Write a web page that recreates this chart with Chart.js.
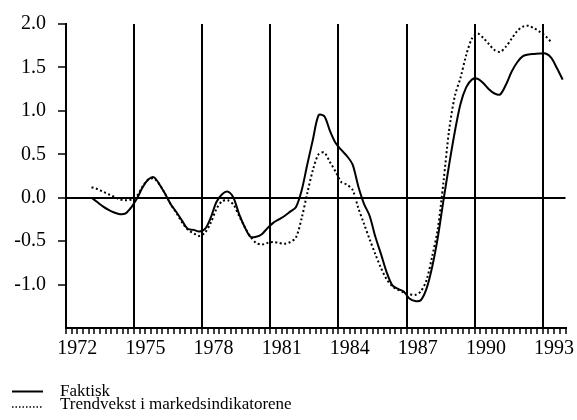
<!DOCTYPE html>
<html>
<head>
<meta charset="utf-8">
<script src="https://cdn.jsdelivr.net/npm/chart.js@4/dist/chart.umd.min.js"></script>
<style>
  html, body { margin: 0; padding: 0; background: #fff; }
  #wrap { position: relative; width: 577px; height: 420px; }
</style>
</head>
<body>
<div id="wrap"><canvas id="chart" width="577" height="420"></canvas></div>
<script>
// Quarterly growth, 1973 Q1 onwards (one value per quarter)
const firstYear = 1973;

const faktisk = [
   0.00, -0.05, -0.10, -0.14,   // 1973
  -0.17, -0.19, -0.18, -0.11,   // 1974
  -0.01,  0.12,  0.21,  0.235,  // 1975
   0.15,  0.04, -0.08, -0.17,   // 1976
  -0.27, -0.36, -0.37, -0.39,   // 1977
  -0.36, -0.23, -0.05,  0.04,   // 1978
   0.07,  0.00, -0.19, -0.34,   // 1979
  -0.45, -0.45, -0.42, -0.35,   // 1980
  -0.29, -0.25, -0.21, -0.16,   // 1981
  -0.11,  0.08,  0.38,  0.67,   // 1982
   0.95,  0.94,  0.77,  0.63,   // 1983
   0.55,  0.48,  0.38,  0.13,   // 1984
  -0.07, -0.21, -0.45, -0.65,   // 1985
  -0.86, -1.01, -1.05, -1.08,   // 1986
  -1.16, -1.19, -1.18, -1.05,   // 1987
  -0.80, -0.46, -0.03,  0.38,   // 1988
   0.76,  1.08,  1.27,  1.36,   // 1989
   1.37,  1.32,  1.25,  1.20,   // 1990
   1.19,  1.30,  1.45,  1.56,   // 1991
   1.63,  1.65,  1.655, 1.66,   // 1992
   1.66,  1.61,  1.49,  1.36    // 1993
];

const trendvekst = [
   0.12,  0.10,  0.07,  0.04,   // 1973
   0.01, -0.02, -0.03, -0.02,   // 1974
   0.02,  0.13,  0.21,  0.22,   // 1975
   0.15,  0.04, -0.08, -0.18,   // 1976
  -0.29, -0.37, -0.41, -0.44,   // 1977
  -0.40, -0.29, -0.13, -0.04,   // 1978
  -0.03, -0.08, -0.21, -0.34,   // 1979
  -0.45, -0.52, -0.54, -0.52,   // 1980
  -0.51, -0.52, -0.53, -0.51,   // 1981
  -0.46, -0.24,  0.05,  0.32,   // 1982
   0.50,  0.52,  0.41,  0.30,   // 1983
   0.18,  0.15,  0.09, -0.12,   // 1984
  -0.30, -0.48, -0.65, -0.81,   // 1985
  -0.94, -1.02, -1.06, -1.09,   // 1986
  -1.11, -1.12, -1.08, -0.95,   // 1987
  -0.68, -0.36,  0.18,  0.78,   // 1988
   1.17,  1.38,  1.64,  1.83,   // 1989
   1.89,  1.84,  1.77,  1.70,   // 1990
   1.68,  1.74,  1.83,  1.92,   // 1991
   1.97,  1.98,  1.95,  1.91,   // 1992
   1.86,  1.79                  // 1993
];

const seriesNames = ['Faktisk', 'Trendvekst i markedsindikatorene'];
const yearLabels  = [1972, 1975, 1978, 1981, 1984, 1987, 1990, 1993];
const markerYears = [1975, 1978, 1981, 1984, 1987, 1990, 1993];
const yTicks      = [2.0, 1.5, 1.0, 0.5, 0.0, -0.5, -1.0];

// Each quarter is plotted at its midpoint on a continuous year axis
const toPoints = values => values.map((v, i) => ({ x: firstYear + (i + 0.5) / 4, y: v }));

const FONT = 'Liberation Serif, Times New Roman, serif';
const INK = '#000';

// Legend drawn beneath the plot, one entry per row
const legendBelow = {
  id: 'legendBelow',
  afterDraw(chart) {
    const ctx = chart.ctx;
    const rows = [391.5, 405];
    ctx.save();
    ctx.font = '17px ' + FONT;
    ctx.fillStyle = INK;
    ctx.textBaseline = 'middle';
    chart.data.datasets.forEach((ds, i) => {
      const y = rows[i];
      const dashed = ds.borderDash && ds.borderDash.length;
      ctx.beginPath();
      ctx.strokeStyle = INK;
      ctx.lineWidth = dashed ? 1.5 : 2;
      ctx.setLineDash(dashed ? [1.5, 2] : []);
      ctx.moveTo(12, y + (dashed ? 2 : 0));
      ctx.lineTo(43, y + (dashed ? 2 : 0));
      ctx.stroke();
      ctx.setLineDash([]);
      ctx.fillText(ds.label, 60, y);
    });
    ctx.restore();
  }
};

new Chart(document.getElementById('chart'), {
  type: 'line',
  data: {
    datasets: [
      {
        label: seriesNames[0],
        data: toPoints(faktisk),
        borderColor: INK,
        borderWidth: 2,
        pointRadius: 0,
        tension: 0.3,
        fill: false
      },
      {
        label: seriesNames[1],
        data: toPoints(trendvekst),
        borderColor: INK,
        borderWidth: 2,
        borderDash: [2, 2.5],
        pointRadius: 0,
        tension: 0.3,
        fill: false
      }
    ]
  },
  options: {
    responsive: false,
    devicePixelRatio: 1,
    animation: false,
    layout: { padding: { top: 21, right: 11.5, bottom: 60, left: 0 } },
    plugins: {
      legend: { display: false },
      tooltip: { enabled: false }
    },
    scales: {
      x: {
        type: 'linear',
        min: 1972,
        max: 1994,
        afterBuildTicks(scale) {
          const ticks = [];
          for (let q = 0; q <= (1994 - 1972) * 4; q++) ticks.push({ value: 1972 + q / 4 });
          scale.ticks = ticks;
        },
        afterFit(scale) { scale.height = 32; },
        border: { display: true, color: INK, width: 2 },
        grid: {
          drawOnChartArea: true,
          color: c => (c.tick && markerYears.includes(c.tick.value)) ? INK : 'rgba(0,0,0,0)',
          lineWidth: 2,
          tickColor: INK,
          tickLength: 6,
          tickWidth: 1.5
        },
        ticks: {
          autoSkip: false,
          maxRotation: 0,
          minRotation: 0,
          labelOffset: 11.3,
          padding: 3,
          color: INK,
          font: { family: FONT, size: 20 },
          callback: v => yearLabels.includes(v) ? String(v) : ''
        }
      },
      y: {
        type: 'linear',
        min: -1.5,
        max: 2.0,
        afterBuildTicks(scale) { scale.ticks = yTicks.map(v => ({ value: v })); },
        afterFit(scale) { scale.width = 66; },
        border: { display: true, color: INK, width: 2 },
        grid: {
          color: c => (c.tick && c.tick.value === 0) ? INK : 'rgba(0,0,0,0)',
          lineWidth: 2,
          tickColor: INK,
          tickLength: 8,
          tickWidth: 1.5
        },
        ticks: {
          padding: 12,
          color: INK,
          font: { family: FONT, size: 20 },
          callback: v => Number(v).toFixed(1)
        }
      }
    }
  },
  plugins: [legendBelow]
});
</script>
</body>
</html>
